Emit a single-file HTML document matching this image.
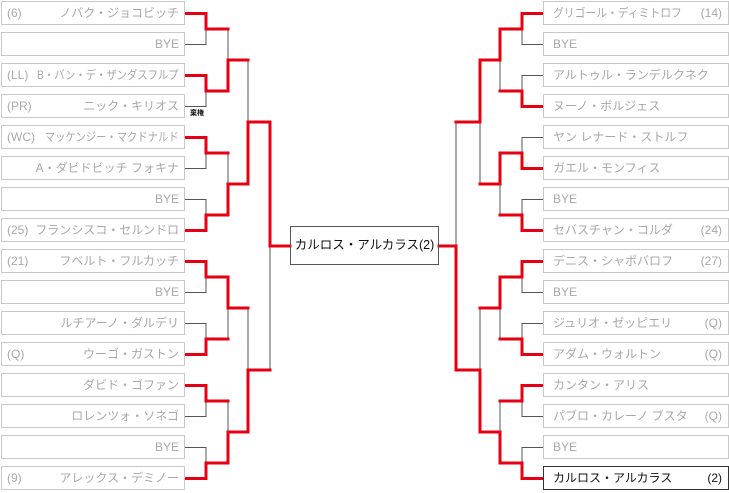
<!DOCTYPE html>
<html><head><meta charset="utf-8">
<style>
body{margin:0;width:729px;height:493px;background:#fff;position:relative;overflow:hidden;font-family:"Liberation Sans","Noto Sans CJK JP",sans-serif;}
.b{position:absolute;height:22px;border:1px solid #c8c8c8;background:#fff;color:#a8a8a8;font-size:12px;line-height:22px;box-sizing:content-box;}
.l{left:1px;width:182px;}
.r{left:543px;width:184px;}
.s{position:absolute;left:5px;top:0;}
.n{position:absolute;right:5px;top:0;white-space:nowrap;}
.r .n{left:9px;right:auto;}
.r .s{left:auto;right:6px;}
.l .q{transform:scaleX(0.86);transform-origin:right center;}
.r .q{transform:scaleX(0.9);transform-origin:left center;}
.c{position:absolute;left:290px;top:226px;width:147px;height:37px;border:1px solid #555;font-size:12.5px;line-height:37px;text-align:center;color:#111;white-space:nowrap;}
.w{position:absolute;left:190px;top:108px;font-size:7px;font-weight:bold;color:#111;}
svg{position:absolute;left:0;top:0;}
</style></head><body>
<svg id="g" width="729" height="493"></svg>
<div class="b l" style="top:1px"><span class="s">(6)</span><span class="n">ノバク・ジョコビッチ</span></div>
<div class="b l" style="top:32px"><span class="n">BYE</span></div>
<div class="b l" style="top:63px"><span class="s">(LL)</span><span class="n q">B・バン・デ・ザンダスフルプ</span></div>
<div class="b l" style="top:94px"><span class="s">(PR)</span><span class="n">ニック・キリオス</span></div>
<div class="b l" style="top:125px"><span class="s">(WC)</span><span class="n q">マッケンジー・マクドナルド</span></div>
<div class="b l" style="top:156px"><span class="n">A・ダビドビッチ フォキナ</span></div>
<div class="b l" style="top:187px"><span class="n">BYE</span></div>
<div class="b l" style="top:218px"><span class="s">(25)</span><span class="n">フランシスコ・セルンドロ</span></div>
<div class="b l" style="top:249px"><span class="s">(21)</span><span class="n">フベルト・フルカッチ</span></div>
<div class="b l" style="top:280px"><span class="n">BYE</span></div>
<div class="b l" style="top:311px"><span class="n">ルチアーノ・ダルデリ</span></div>
<div class="b l" style="top:342px"><span class="s">(Q)</span><span class="n">ウーゴ・ガストン</span></div>
<div class="b l" style="top:373px"><span class="n">ダビド・ゴファン</span></div>
<div class="b l" style="top:404px"><span class="n">ロレンツォ・ソネゴ</span></div>
<div class="b l" style="top:435px"><span class="n">BYE</span></div>
<div class="b l" style="top:466px"><span class="s">(9)</span><span class="n">アレックス・デミノー</span></div>

<div class="b r" style="top:1px"><span class="n q">グリゴール・ディミトロフ</span><span class="s">(14)</span></div>
<div class="b r" style="top:32px"><span class="n">BYE</span></div>
<div class="b r" style="top:63px"><span class="n">アルトゥル・ランデルクネク</span></div>
<div class="b r" style="top:94px"><span class="n">ヌーノ・ボルジェス</span></div>
<div class="b r" style="top:125px"><span class="n">ヤン レナード・ストルフ</span></div>
<div class="b r" style="top:156px"><span class="n">ガエル・モンフィス</span></div>
<div class="b r" style="top:187px"><span class="n">BYE</span></div>
<div class="b r" style="top:218px"><span class="n">セバスチャン・コルダ</span><span class="s">(24)</span></div>
<div class="b r" style="top:249px"><span class="n">デニス・シャポバロフ</span><span class="s">(27)</span></div>
<div class="b r" style="top:280px"><span class="n">BYE</span></div>
<div class="b r" style="top:311px"><span class="n">ジュリオ・ゼッピエリ</span><span class="s">(Q)</span></div>
<div class="b r" style="top:342px"><span class="n">アダム・ウォルトン</span><span class="s">(Q)</span></div>
<div class="b r" style="top:373px"><span class="n">カンタン・アリス</span></div>
<div class="b r" style="top:404px"><span class="n">パブロ・カレーノ ブスタ</span><span class="s">(Q)</span></div>
<div class="b r" style="top:435px"><span class="n">BYE</span></div>
<div class="b r" style="top:466px;border-color:#333;color:#111"><span class="n">カルロス・アルカラス</span><span class="s">(2)</span></div>

<div class="c">カルロス・アルカラス(2)</div>
<div class="w">棄権</div>
<script>
var svg=document.getElementById('g'),NS='http://www.w3.org/2000/svg';
function ln(x1,y1,x2,y2,red){var e=document.createElementNS(NS,'line');e.setAttribute('x1',x1);e.setAttribute('y1',y1);e.setAttribute('x2',x2);e.setAttribute('y2',y2);e.setAttribute('stroke',red?'#e60012':'#555');e.setAttribute('stroke-width',red?3:1);e.setAttribute('stroke-linecap','square');svg.appendChild(e);}
function side(edge,xs,wins){
 var ys=[];for(var i=0;i<16;i++)ys.push(13.5+31*i);
 var prevX=edge, segs=[];
 for(var r=0;r<4;r++){
  var x=xs[r],ny=[];
  for(var k=0;k<ys.length;k+=2){
   var w=wins[r][k/2],a=ys[k],b=ys[k+1],m=(a+b)/2;
   if(r==0){segs.push([prevX,a,x,a,w==0]);segs.push([prevX,b,x,b,w==1]);}
   segs.push([x,a,x,m,w==0]);segs.push([x,m,x,b,w==1]);
   ny.push(m);
  }
  var nx=r<3?xs[r+1]:(edge<300?290:439);
  for(var j=0;j<ny.length;j++)segs.push([x,ny[j],nx,ny[j],true]);
  ys=ny;prevX=x;
 }
 segs.forEach(function(s){if(!s[4])ln(s[0],s[1],s[2],s[3],false);});
 segs.forEach(function(s){if(s[4])ln(s[0],s[1],s[2],s[3],true);});
}
side(184,[206,228,248,270],[[0,0,0,1,0,1,0,1],[1,1,0,1],[1,1],[0]]);
side(543,[522,500,480,456],[[0,1,1,1,0,1,0,1],[0,0,0,1],[0,1],[1]]);
</script>
</body></html>
